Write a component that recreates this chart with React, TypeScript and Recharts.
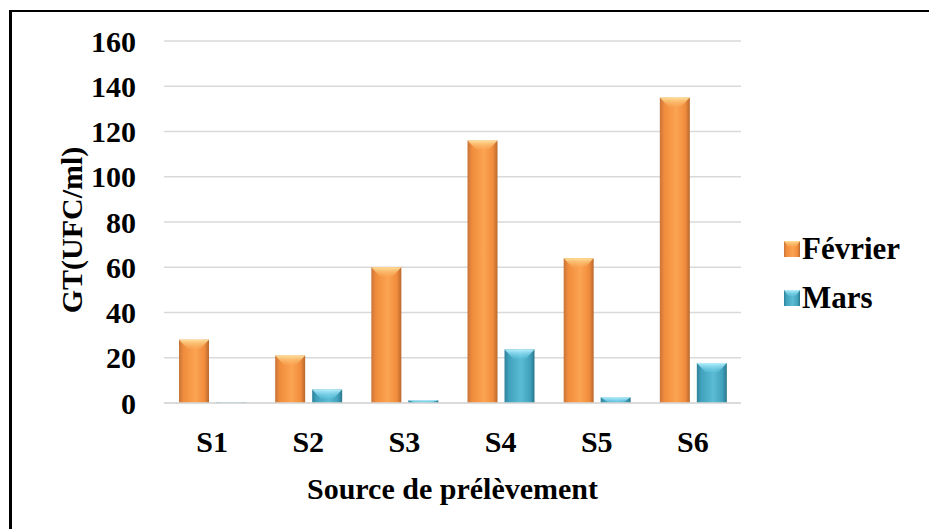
import React from "react";
import { BarChart, Bar, XAxis, YAxis, CartesianGrid, Legend, Label } from "recharts";

const sources = ["S1", "S2", "S3", "S4", "S5", "S6"];
const fevrier = [28, 21, 60, 116, 64, 135];
const mars = [0.3, 6, 1.2, 23.7, 2.5, 17.7];
const yTicks = [0, 20, 40, 60, 80, 100, 120, 140, 160];

const data = sources.map((s, i) => ({ source: s, fevrier: fevrier[i], mars: mars[i] }));

const FONT = "Liberation Serif";

const SERIES = {
  fevrier: { label: "Février", body: "gradFev", cap: "capFev", base: "#f79646" },
  mars: { label: "Mars", body: "gradMars", cap: "capMars", base: "#4bacc6" },
};

// bar with a bit of a 3d look: shaded sides and a lighter bevel on top
function Bar3D(props: any) {
  const { x, y, width, height, body, cap } = props;
  if (!height || height <= 0) return null;
  const capH = Math.min(9, height);
  return (
    <g>
      <rect x={x} y={y} width={width} height={height} fill={`url(#${body})`} />
      <polygon
        points={`${x},${y} ${x + width},${y} ${x + width * 0.72},${y + capH} ${x + width * 0.28},${y + capH}`}
        fill={`url(#${cap})`}
      />
    </g>
  );
}

function LegendBox({ series }: { series: keyof typeof SERIES }) {
  const s = SERIES[series];
  return (
    <svg width={16} height={16} style={{ marginRight: 2 }}>
      <rect x={0} y={0} width={16} height={16} fill={`url(#${s.body})`} />
      <polygon points="0,0 16,0 12,6 4,6" fill={`url(#${s.cap})`} />
    </svg>
  );
}

function renderLegend() {
  return (
    <div style={{ fontFamily: FONT, fontWeight: "bold", fontSize: 31, color: "#000" }}>
      {(["fevrier", "mars"] as const).map((k) => (
        <div key={k} style={{ display: "flex", alignItems: "center", height: 49 }}>
          <LegendBox series={k} />
          <span>{SERIES[k].label}</span>
        </div>
      ))}
    </div>
  );
}

export default function App() {
  const tick = { fontFamily: FONT, fontWeight: "bold", fontSize: 30, fill: "#000" };
  const labelStyle = { fontFamily: FONT, fontWeight: "bold", fontSize: 30, fill: "#000" };
  return (
    <div style={{ position: "absolute", left: 0, top: 0, width: 929, height: 529, background: "#fff" }}>
      <svg width={0} height={0} style={{ position: "absolute" }}>
        <defs>
          <linearGradient id="gradFev" x1="0" y1="0" x2="1" y2="0">
            <stop offset="0%" stopColor="#c8743a" />
            <stop offset="15%" stopColor="#f08c3c" />
            <stop offset="55%" stopColor="#fba452" />
            <stop offset="85%" stopColor="#f08c3c" />
            <stop offset="100%" stopColor="#b8682e" />
          </linearGradient>
          <linearGradient id="capFev" x1="0" y1="0" x2="0" y2="1">
            <stop offset="0%" stopColor="#ffe09a" />
            <stop offset="100%" stopColor="#fbb060" stopOpacity={0.3} />
          </linearGradient>
          <linearGradient id="gradMars" x1="0" y1="0" x2="1" y2="0">
            <stop offset="0%" stopColor="#2f8299" />
            <stop offset="15%" stopColor="#41a2bd" />
            <stop offset="55%" stopColor="#5cbcd4" />
            <stop offset="85%" stopColor="#41a2bd" />
            <stop offset="100%" stopColor="#2a778c" />
          </linearGradient>
          <linearGradient id="capMars" x1="0" y1="0" x2="0" y2="1">
            <stop offset="0%" stopColor="#b8f0ff" />
            <stop offset="100%" stopColor="#6cd0ea" stopOpacity={0.3} />
          </linearGradient>
        </defs>
      </svg>

      {/* frame: only top and left edges show in the source */}
      <div style={{ position: "absolute", left: 9, top: 10, width: 920, height: 2, background: "#000" }} />
      <div style={{ position: "absolute", left: 9, top: 10, width: 3, height: 519, background: "#000" }} />

      <BarChart
        width={929}
        height={529}
        data={data}
        margin={{ top: 41, right: 188, bottom: 16, left: 0 }}
        barSize={30}
        barGap={7}
        style={{ fontFamily: FONT }}
      >
        <CartesianGrid vertical={false} stroke="#d9d9d9" strokeWidth={1.5} />
        <XAxis
          dataKey="source"
          height={110}
          axisLine={{ stroke: "#d9d9d9", strokeWidth: 1.5 }}
          tickLine={false}
          tickMargin={22}
          tick={tick}
        >
          <Label
            value="Source de prélèvement"
            position="insideBottom"
            offset={14}
            fontFamily={FONT}
            fontWeight="bold"
            fontSize={30}
            fill="#000"
            style={labelStyle}
          />
        </XAxis>
        <YAxis
          width={164}
          domain={[0, 160]}
          ticks={yTicks}
          interval={0}
          axisLine={false}
          tickLine={false}
          tickMargin={22}
          tick={tick}
          label={{
            content: () => (
              <text
                x={71}
                y={230}
                transform="rotate(-90 71 230)"
                textAnchor="middle"
                dominantBaseline="central"
                fontFamily={FONT}
                fontWeight="bold"
                fontSize={30}
                fill="#000"
              >
                GT(UFC/ml)
              </text>
            ),
          }}
        />
        <Legend
          layout="vertical"
          align="center"
          verticalAlign="middle"
          content={renderLegend}
          wrapperStyle={{ left: 784, top: 224, width: 145 }}
        />
        <Bar
          dataKey="fevrier"
          name="Février"
          fill={SERIES.fevrier.base}
          isAnimationActive={false}
          shape={(p: any) => <Bar3D {...p} body="gradFev" cap="capFev" />}
        />
        <Bar
          dataKey="mars"
          name="Mars"
          fill={SERIES.mars.base}
          isAnimationActive={false}
          shape={(p: any) => <Bar3D {...p} body="gradMars" cap="capMars" />}
        />
      </BarChart>
    </div>
  );
}
